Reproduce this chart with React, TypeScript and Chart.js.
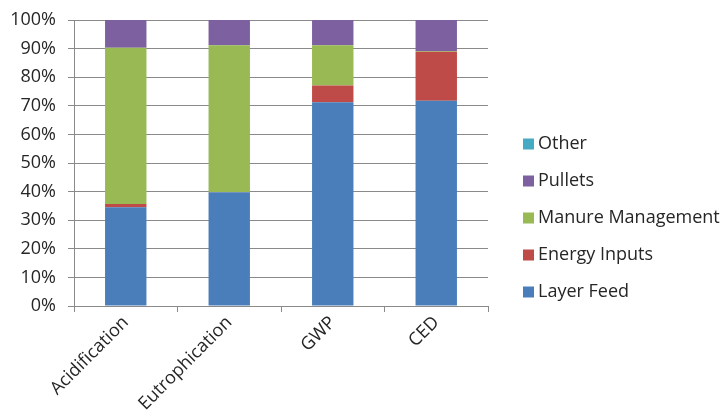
import React, { useEffect, useRef } from "react";
import { Chart, registerables } from "chart.js";

Chart.register(...registerables);

const categories = ["Acidification", "Eutrophication", "GWP", "CED"];
const layerFeed = [34.5, 39.8, 71.2, 71.8];
const energyInputs = [1.2, 0.1, 5.9, 17.1];
const manureManagement = [54.6, 51.3, 14.1, 0.3];
const pullets = [9.7, 8.8, 8.8, 10.8];
const other = [0, 0, 0, 0];
const yTicks = [0, 10, 20, 30, 40, 50, 60, 70, 80, 90, 100];

const FONT = "'Open Sans', Lato, sans-serif";
const SIZE = 18;
const GRID = "#8a8a8a";
const TEXT = "#262626";

// Legend drawn at the right of the plot, listed top-down in reverse stack order.
const sideLegend = {
  id: "sideLegend",
  afterDraw(chart: any) {
    const { ctx, chartArea, data } = chart;
    const items = [...data.datasets].reverse();
    const x0 = chartArea.right + 35;
    const step = 37;
    const midY = 218;
    const startY = midY - (step * (items.length - 1)) / 2;
    ctx.save();
    ctx.font = `${SIZE}px ${FONT}`;
    ctx.textBaseline = "middle";
    ctx.textAlign = "left";
    items.forEach((ds: any, i: number) => {
      const y = startY + i * step;
      ctx.fillStyle = ds.backgroundColor;
      ctx.fillRect(x0, y - 5.5, 11, 11);
      ctx.fillStyle = TEXT;
      ctx.fillText(ds.label, x0 + 15, y);
    });
    ctx.restore();
  },
};

export default function App() {
  const ref = useRef<HTMLCanvasElement | null>(null);

  useEffect(() => {
    document.body.style.margin = "0";
    const canvas = ref.current;
    if (!canvas) return;
    const chart = new Chart(canvas, {
      type: "bar",
      data: {
        labels: categories,
        datasets: [
          { label: "Layer Feed", data: layerFeed, backgroundColor: "#4a7ebb" },
          { label: "Energy Inputs", data: energyInputs, backgroundColor: "#be4b48" },
          { label: "Manure Management", data: manureManagement, backgroundColor: "#98b954" },
          { label: "Pullets", data: pullets, backgroundColor: "#7d60a0" },
          { label: "Other", data: other, backgroundColor: "#46aac5" },
        ],
      },
      options: {
        responsive: false,
        animation: false,
        layout: { padding: { left: 10, top: 20, right: 237, bottom: 0 } },
        datasets: { bar: { categoryPercentage: 0.8, barPercentage: 0.5 } },
        plugins: { legend: { display: false }, tooltip: { enabled: false } },
        scales: {
          x: {
            stacked: true,
            afterFit: (s: any) => {
              s.height = 114;
              s.paddingLeft = 0;
              s.paddingRight = 0;
            },
            grid: { drawOnChartArea: false, tickLength: 6, color: GRID, offset: true },
            border: { color: GRID },
            ticks: {
              minRotation: 45,
              maxRotation: 45,
              padding: 0,
              color: TEXT,
              font: { family: FONT, size: SIZE },
            },
          },
          y: {
            stacked: true,
            min: 0,
            max: 100,
            afterBuildTicks: (axis: any) => {
              axis.ticks = yTicks.map((v) => ({ value: v }));
            },
            afterFit: (s: any) => {
              s.width = 64;
              s.paddingTop = 0;
              s.paddingBottom = 0;
            },
            grid: { color: GRID, tickLength: 6 },
            border: { color: GRID },
            ticks: {
              padding: 12,
              color: TEXT,
              font: { family: FONT, size: SIZE },
              callback: (v: any) => `${v}%`,
            },
          },
        },
      },
      plugins: [sideLegend],
    });
    return () => chart.destroy();
  }, []);

  return (
    <div style={{ width: 725, height: 420, background: "#fff" }}>
      <canvas ref={ref} width={725} height={420} />
    </div>
  );
}
